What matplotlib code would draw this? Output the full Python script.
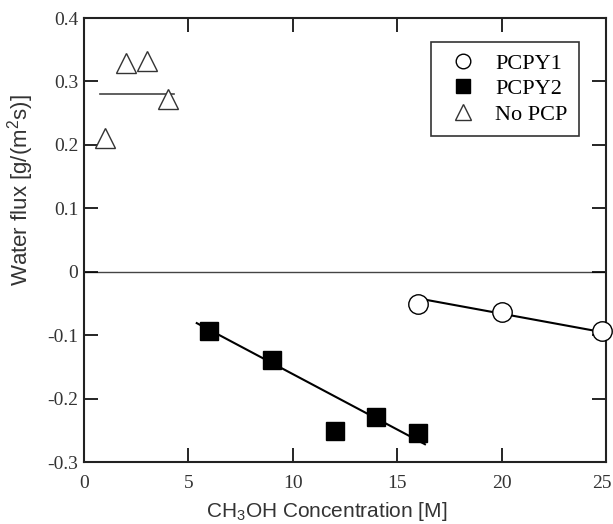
import numpy as np
import matplotlib.pyplot as plt
import matplotlib.transforms as mtransforms

# data
x_nopcp = [1, 2, 3, 4]
y_nopcp = [0.211, 0.329, 0.333, 0.272]
x_pcpy2 = [6, 9, 12, 14, 16]
y_pcpy2 = [-0.094, -0.139, -0.251, -0.229, -0.254]
x_pcpy1 = [16, 20, 24.8]
y_pcpy1 = [-0.051, -0.063, -0.094]

# fitted lines (end points)
fit_nopcp_x = [0.77, 4.3]
fit_nopcp_y = [0.280, 0.280]
fit_pcpy2_x = [5.4, 16.33]
fit_pcpy2_y = [-0.081, -0.272]
fit_pcpy1_x = [16.0, 24.95]
fit_pcpy1_y = [-0.042, -0.096]

xticks = [0, 5, 10, 15, 20, 25]
yticks = [-0.3, -0.2, -0.1, 0, 0.1, 0.2, 0.3, 0.4]
xticklabels = ["0", "5", "10", "15", "20", "25"]
yticklabels = ["-0.3", "-0.2", "-0.1", "0", "0.1", "0.2", "0.3", "0.4"]

serif = "Liberation Serif"
sans = "Liberation Sans"
plt.rcParams["mathtext.fontset"] = "custom"
plt.rcParams["mathtext.rm"] = sans
plt.rcParams["mathtext.it"] = sans + ":italic"
plt.rcParams["mathtext.default"] = "regular"

fig = plt.figure(figsize=(6.13, 5.24), dpi=100)
ax = fig.add_axes([0.137, 0.1183, 0.8516, 0.8473])

ax.axhline(0, color="#444444", lw=1.0, zorder=1)
ax.plot(fit_nopcp_x, fit_nopcp_y, color="#444444", lw=1.2, zorder=2)
ax.plot(fit_pcpy2_x, fit_pcpy2_y, color="black", lw=1.5, zorder=2)
ax.plot(fit_pcpy1_x, fit_pcpy1_y, color="black", lw=1.5, zorder=2)

ax.plot(x_pcpy1, y_pcpy1, "o", ms=14, mfc="white", mec="black", mew=1.0,
        ls="none", label="PCPY1", zorder=3, clip_on=False)
ax.plot(x_pcpy2, y_pcpy2, "s", ms=13, mfc="black", mec="black",
        ls="none", label="PCPY2", zorder=3)
ax.plot(x_nopcp, y_nopcp, "^", ms=15, mfc="white", mec="#333333", mew=1.0,
        ls="none", label="No PCP", zorder=3)

ax.set_xlim(0, 25)
ax.set_ylim(-0.3, 0.4)
ax.set_xticks(xticks)
ax.set_yticks(yticks)
ax.set_xticklabels(xticklabels)
ax.set_yticklabels(yticklabels)
ax.tick_params(direction="in", length=10, width=1.2, top=True, right=True,
               labelsize=14)
ax.tick_params(axis="x", pad=9)
ax.tick_params(axis="y", pad=4)
for lab in ax.get_xticklabels() + ax.get_yticklabels():
    lab.set_fontfamily(serif)
    lab.set_color("#333333")
# keep the last x label inside the figure
last = ax.get_xticklabels()[-1]
last.set_transform(last.get_transform() +
                   mtransforms.ScaledTranslation(-4 / 100, 0, fig.dpi_scale_trans))
for sp in ax.spines.values():
    sp.set_linewidth(1.5)
    sp.set_color("#222222")

ax.set_xlabel("CH$_3$OH Concentration [M]", fontfamily=sans, fontsize=15,
              color="#333333")
ax.xaxis.set_label_coords(0.465, -0.086)
ax.set_ylabel("Water flux [g/(m$^2$s)]", fontfamily=sans, fontsize=16,
              color="#333333")
ax.yaxis.set_label_coords(-0.092, 0.613)

leg = ax.legend(loc="upper right", bbox_to_anchor=(0.948, 0.946),
                borderaxespad=0.0,
                prop={"family": serif, "size": 16}, frameon=True,
                fancybox=False, edgecolor="black", handlelength=1.9,
                handletextpad=0.5, borderpad=0.5, labelspacing=0.22,
                markerscale=0.75)
leg.get_frame().set_linewidth(1.2)

fig.savefig("out.png", dpi=100)
